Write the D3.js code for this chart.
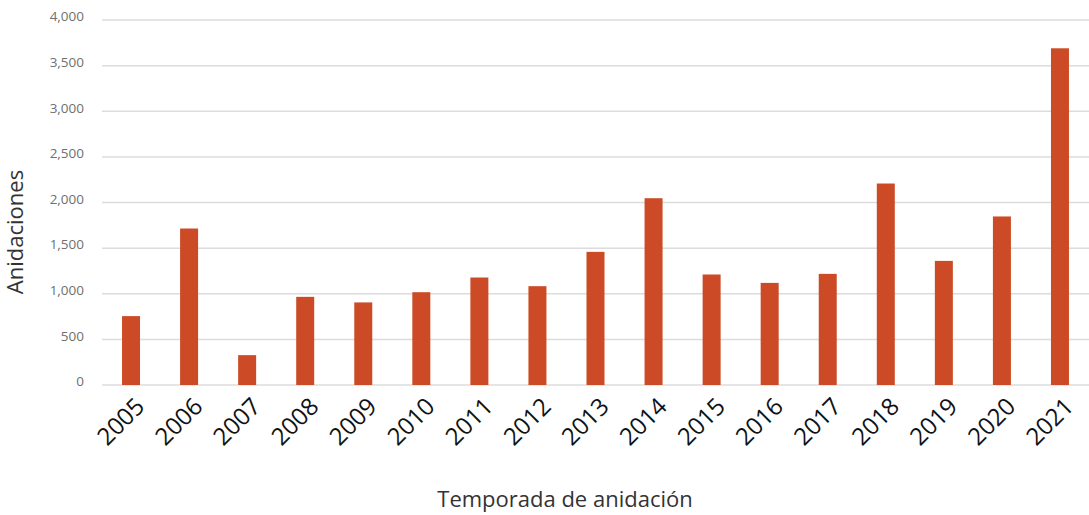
<html><head>
<style>
body {
  background-color: white;
  margin: 0;
  padding: 0;
  font-family: 'Open Sans', sans-serif;
}
#chart {
  display: block;
}
</style>
</head>
<body>
<svg id="chart" width="1089" height="515"></svg>

<script src="https://cdnjs.cloudflare.com/ajax/libs/d3/7.8.5/d3.min.js"></script>
<script>
const seasons = ["2005","2006","2007","2008","2009","2010","2011","2012","2013",
  "2014","2015","2016","2017","2018","2019","2020","2021"];
const nestings = [755, 1715, 327, 966, 905, 1017, 1178, 1083, 1459,
  2047, 1211, 1119, 1218, 2208, 1360, 1847, 3690];
const yTicks = [0, 500, 1000, 1500, 2000, 2500, 3000, 3500, 4000];

const svg = d3.select("#chart");
const width = 1089;

const margin = {left: 102, right: 0, top: 20, bottom: 385};

const x = d3.scaleBand()
  .domain(seasons)
  .range([margin.left, width])
  .paddingInner(0.69)
  .paddingOuter(0.345);

const y = d3.scaleLinear()
  .domain([0, 4000])
  .range([margin.bottom, margin.top]);

// gridlines
svg.append("g")
  .selectAll("line")
  .data(yTicks)
  .join("line")
  .attr("x1", margin.left)
  .attr("x2", width)
  .attr("y1", d => y(d))
  .attr("y2", d => y(d))
  .attr("stroke", "#dcdcdc")
  .attr("stroke-width", 1.5);

// y tick labels
svg.append("g")
  .selectAll("text")
  .data(yTicks)
  .join("text")
  .attr("x", 84)
  .attr("y", d => y(d))
  .attr("dy", "0.1em")
  .attr("text-anchor", "end")
  .attr("font-size", 13.5)
  .attr("fill", "#6f6f6f")
  .text(d3.format(","));

// bars
svg.append("g")
  .selectAll("rect")
  .data(nestings)
  .join("rect")
  .attr("x", (d, i) => x(seasons[i]))
  .attr("width", x.bandwidth())
  .attr("y", d => y(d))
  .attr("height", d => y(0) - y(d))
  .attr("fill", "#cc4b26");

// x labels
svg.append("g")
  .selectAll("text")
  .data(seasons)
  .join("text")
  .attr("text-anchor", "end")
  .attr("transform", d => `translate(${x(d) + x.bandwidth() / 2 + 15},${408}) rotate(-45)`)
  .attr("font-size", 24)
  .attr("fill", "#111")
  .text(d => d);

// axis titles
svg.append("text")
  .attr("transform", "translate(23,232) rotate(-90)")
  .attr("text-anchor", "middle")
  .attr("font-size", 22)
  .attr("fill", "#333")
  .text("Anidaciones");

svg.append("text")
  .attr("x", 565)
  .attr("y", 507)
  .attr("text-anchor", "middle")
  .attr("font-size", 22)
  .attr("fill", "#333")
  .text("Temporada de anidación");
</script>
</body>
</html>
